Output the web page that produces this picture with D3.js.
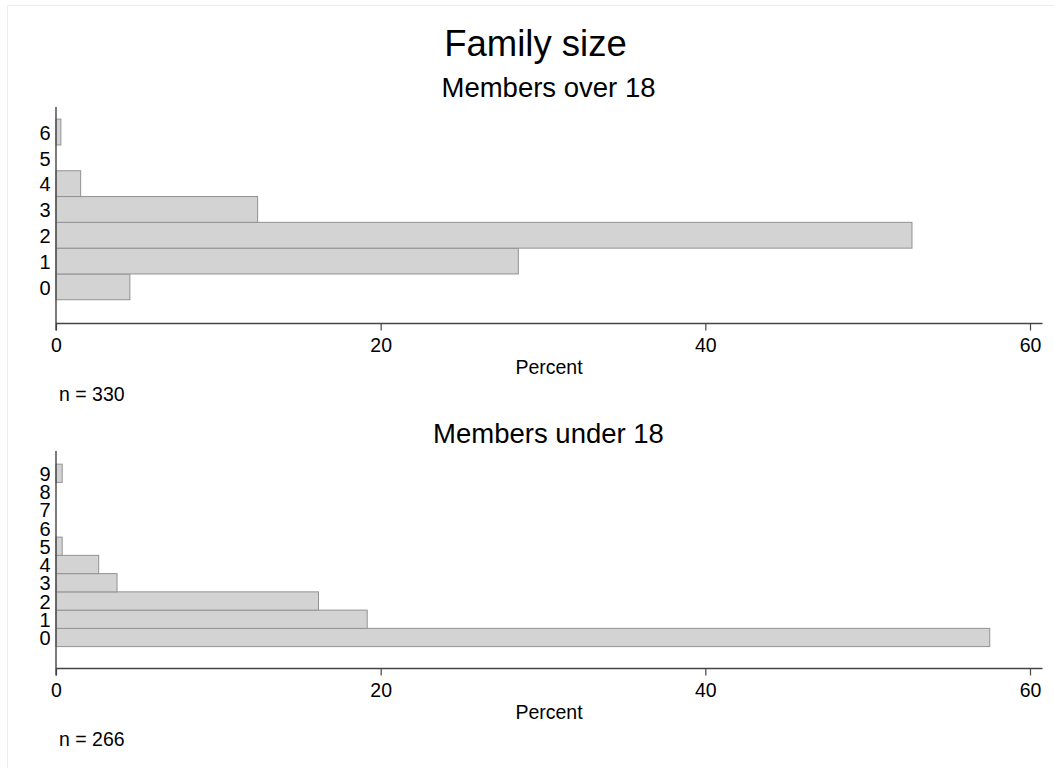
<!DOCTYPE html>
<html><head><meta charset="utf-8">
<script src="https://cdn.jsdelivr.net/npm/d3@7"></script>
<style>
html,body{margin:0;padding:0;background:#fff;}
svg{display:block;font-family:"Liberation Sans",Arial,Helvetica,sans-serif;}
</style></head><body>
<svg id="c" width="1054" height="768"></svg>
<script>
const chartTitle = "Family size";
const panelTitles = ["Members over 18", "Members under 18"];
const overCategories = [0, 1, 2, 3, 4, 5, 6];
const overPercent = [4.55, 28.48, 52.73, 12.42, 1.52, 0, 0.30];
const underCategories = [0, 1, 2, 3, 4, 5, 6, 7, 8, 9];
const underPercent = [57.52, 19.17, 16.17, 3.76, 2.63, 0.38, 0, 0, 0, 0.38];
const xTicks = [0, 20, 40, 60];
const xLabel = "Percent";
const nLabels = ["n = 330", "n = 266"];

const svg = d3.select("#c");
svg.append("rect").attr("x", 7.5).attr("y", 5.5).attr("width", 1100).attr("height", 800)
  .attr("fill", "none").attr("stroke", "#ececec");

svg.append("text").attr("x", 535.5).attr("y", 56).attr("text-anchor", "middle")
  .attr("font-size", 36.5).text(chartTitle);

const panels = [
  {title: panelTitles[0], cats: overCategories, vals: overPercent, n: nLabels[0],
   yTop: 107, yBot: 323.5, dom: [-1.42, 6.97], titleY: 97},
  {title: panelTitles[1], cats: underCategories, vals: underPercent, n: nLabels[1],
   yTop: 451, yBot: 668.5, dom: [-1.70, 10.22], titleY: 443}
];

const x = d3.scaleLinear().domain([0, 60]).range([56, 1030]);
const xEnd = 1042.5;

panels.forEach(p => {
  const g = svg.append("g");
  const y = d3.scaleLinear().domain(p.dom).range([p.yBot, p.yTop]);
  g.append("text").attr("x", 548.5).attr("y", p.titleY).attr("text-anchor", "middle")
    .attr("font-size", 27.5).text(p.title);

  g.selectAll("rect.bar").data(p.cats.map((c, i) => ({c, v: p.vals[i]})).filter(d => d.v > 0))
    .enter().append("rect").attr("class", "bar")
    .attr("x", x(0))
    .attr("y", d => y(d.c + 0.5))
    .attr("width", d => x(d.v) - x(0))
    .attr("height", d => y(d.c - 0.5) - y(d.c + 0.5))
    .attr("fill", "#d3d3d3").attr("stroke", "#929292").attr("stroke-width", 1);

  // x axis
  const xa = g.append("g").attr("transform", `translate(0,${p.yBot})`)
    .call(d3.axisBottom(x).tickValues(xTicks).tickSize(7).tickPadding(7.5).tickFormat(d3.format("d")));
  xa.select(".domain").remove();
  xa.append("line").attr("x1", x(0)).attr("x2", xEnd).attr("stroke", "#444").attr("stroke-width", 1.4);
  xa.selectAll(".tick line").attr("stroke", "#444").attr("stroke-width", 1.2);
  xa.selectAll(".tick text").attr("font-size", 19.5).attr("fill", "#000").attr("font-family", null);

  // y axis
  const ya = g.append("g").attr("transform", `translate(${x(0)},0)`)
    .call(d3.axisLeft(y).tickValues(p.cats).tickSize(0).tickPadding(5.5).tickFormat(d3.format("d")));
  ya.select(".domain").remove();
  ya.append("line").attr("y1", p.yTop).attr("y2", p.yBot + 7).attr("stroke", "#444").attr("stroke-width", 1.4);
  ya.selectAll(".tick text").attr("font-size", 20).attr("fill", "#000").attr("font-family", null)
    .attr("dy", "0.36em");

  g.append("text").attr("x", 549).attr("y", p.yBot + 50.5).attr("text-anchor", "middle")
    .attr("font-size", 19.5).text(xLabel);
  g.append("text").attr("x", 59).attr("y", p.yBot + 77.5)
    .attr("font-size", 19.5).text(p.n);
});
</script>
</body></html>
